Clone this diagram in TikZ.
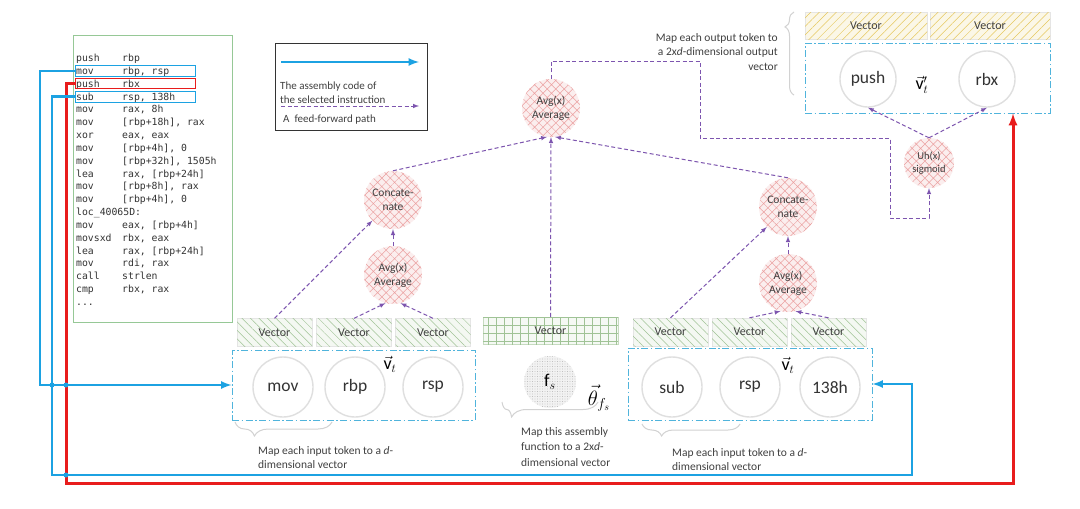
\documentclass[tikz,border=0pt]{standalone}
\usepackage{fontspec}
\setmainfont{Carlito}
\setmonofont{DejaVu Sans Mono}
\usepackage{tikz}
\usetikzlibrary{positioning,patterns.meta,decorations.pathreplacing}
\definecolor{selblue}{RGB}{28,162,226}
\definecolor{tokblue}{RGB}{80,180,220}
\definecolor{selred}{RGB}{232,28,28}
\definecolor{ffpurple}{RGB}{125,85,175}
\definecolor{hatchgreen}{RGB}{160,195,150}
\definecolor{hatchred}{RGB}{235,160,160}
\definecolor{hatchyellow}{RGB}{230,200,95}
\definecolor{codegreen}{RGB}{150,200,150}
\tikzstyle{tok} = [circle, draw=gray!25, line width=1.4pt, fill=white, minimum size=60pt, inner sep=0pt, text=black!80, font=\fontsize{17.5}{17.5}\selectfont]
\tikzstyle{op} = [circle, fill=hatchred!18, postaction={pattern={Hatch[angle=45,distance=6pt,line width=0.5pt]}, pattern color=hatchred}, minimum size=58pt, inner sep=0pt, align=center, text=black!75, font=\fontsize{11.5}{14}\selectfont]
\tikzstyle{vec} = [rectangle, draw=gray!20, fill=hatchgreen!12, postaction={pattern={Lines[angle=-45,distance=6pt,line width=0.5pt]}, pattern color=hatchgreen}, minimum width=75pt, minimum height=28pt, inner sep=0pt, text=black!75, font=\fontsize{12}{13}\selectfont]
\tikzstyle{outvec} = [rectangle, draw=gray!20, fill=hatchyellow!15, postaction={pattern={Lines[angle=45,distance=6pt,line width=0.5pt]}, pattern color=hatchyellow}, minimum height=27pt, inner sep=0pt, text=black!75, font=\fontsize{12}{13}\selectfont]
\tikzstyle{tokbox} = [rectangle, draw=tokblue, line width=1pt, dash pattern=on 7pt off 2.5pt on 1.5pt off 2.5pt, inner sep=0pt]
\tikzstyle{ff} = [draw=ffpurple, line width=1pt, dash pattern=on 4pt off 2.5pt, -latex]
\tikzstyle{sel} = [draw=selblue, line width=2.5pt, -latex]
\tikzstyle{selr} = [draw=selred, line width=3pt, -latex]
\tikzstyle{note} = [align=left, inner sep=0pt, text=black!75, font=\fontsize{11.5}{14}\selectfont]
\tikzstyle{brc} = [draw=gray!35, line width=1pt, decorate]
\tikzstyle{asm} = [anchor=base west, inner sep=0pt, text=black!80, font=\ttfamily\fontsize{9.8}{10}\selectfont]
\tikzstyle{vlabel} = [inner sep=0pt, font=\fontsize{18}{18}\selectfont]

\begin{document}
\begin{tikzpicture}[x=1pt, y=1pt, node distance=79pt]
\useasboundingbox (0,0) rectangle (1080,-509);
\fill[white] (0,0) rectangle (1080,-509);

% assembly listing
\node[draw=codegreen, line width=1pt, minimum width=159pt, minimum height=287pt, inner sep=0pt] (code) at (152.5,-178.5) {};
\foreach \op/\arg [count=\i] in {push/rbp, mov/{rbp, rsp}, push/rbx, sub/{rsp, 138h}, mov/{rax, 8h}, mov/{[rbp+18h], rax}, xor/{eax, eax}, mov/{[rbp+4h], 0}, mov/{[rbp+32h], 1505h}, lea/{rax, [rbp+24h]}, mov/{[rbp+8h], rax}, mov/{[rbp+4h], 0}, loc\_40065D:/{}, mov/{eax, [rbp+4h]}, movsxd/{rbx, eax}, lea/{rax, [rbp+24h]}, mov/{rdi, rax}, call/strlen, cmp/{rbx, rax}} {
  \node[asm] (op\i) at (76,{-61.5-(\i-1)*12.84}) {\op};
  \node[asm] (arg\i) at (122,{-61.5-(\i-1)*12.84}) {\arg};
}
\node[asm] (more) at (76,-305.5) {...};
\node[draw=selblue, line width=1pt, minimum width=120pt, minimum height=11pt, inner sep=0pt] (sel1) at (135,-70.8) {};
\node[draw=selred, line width=1pt, minimum width=120pt, minimum height=10pt, inner sep=0pt] (sel2) at (135,-83.7) {};
\node[draw=selblue, line width=1pt, minimum width=120pt, minimum height=11pt, inner sep=0pt] (sel3) at (135,-96.5) {};

% legend
\node[draw=black!80, line width=1pt, minimum width=152pt, minimum height=87pt, inner sep=0pt] (legend) at (351,-86.5) {};
\coordinate (lga) at (281,-62);
\coordinate (lgb) at (419,-62);
\coordinate (lgc) at (281,-106);
\coordinate (lgd) at (419,-106);
\path[sel] (lga) -- (lgb);
\path[ff] (lgc) -- (lgd);
\node[note, anchor=west, font=\fontsize{11}{14.5}\selectfont] (lgtext1) at (280,-92.5) {The assembly code of\\the selected instruction};
\node[note, anchor=west, font=\fontsize{11}{14}\selectfont] (lgtext2) at (283,-119.5) {A\ \ feed-forward path};

% left input tokens
\node[vec] (vl1) at (274.5,-332.5) {Vector};
\node[vec, right of=vl1, node distance=79.5pt] (vl2) {Vector};
\node[vec, right of=vl2] (vl3) {Vector};
\node[tokbox, minimum width=243pt, minimum height=70pt] (in1) at (353.5,-385) {};
\node[tok] (mov) at (283,-387) {mov};
\node[tok, right of=mov, node distance=72pt] (rbp) {rbp};
\node[tok, right of=rbp, node distance=78pt] (rsp) {rsp};
\node[vlabel] (vtl) at (390,-364) {$\vec{\mathrm{v}}_t$};
\node[op] (avgL) at (393,-275) {Avg(x)\\Average};
\node[op, above of=avgL, node distance=75pt] (catL) {Concate-\\nate};

% function vector
\node[rectangle, draw=hatchgreen!60, fill=hatchgreen!10, postaction={pattern={Hatch[angle=0,distance=8pt,line width=0.5pt]}, pattern color=hatchgreen}, minimum width=135pt, minimum height=27pt, inner sep=0pt, text=black!75, font=\fontsize{12}{13}\selectfont] (vm) at (550.5,-330.5) {Vector};
\node[circle, fill=gray!10, postaction={pattern={Dots[distance=2.5pt,radius=0.45pt]}, pattern color=gray!70}, minimum size=52pt, inner sep=0pt, font=\fontsize{18}{18}\selectfont] (fs) at (550,-382) {$\mathrm{f}_s$};
\node[vlabel, font=\fontsize{20}{20}\selectfont] (theta) at (599,-398) {$\vec{\theta}_{f_s}$};
\node[op] (avgT) at (551,-108) {Avg(x)\\Average};

% right input tokens
\node[vec] (vr1) at (670.5,-332) {Vector};
\node[vec, right of=vr1] (vr2) {Vector};
\node[vec, right of=vr2] (vr3) {Vector};
\node[tokbox, minimum width=244pt, minimum height=72pt] (in2) at (750,-384) {};
\node[tok] (sub) at (672,-387) {sub};
\node[tok, right of=sub, node distance=78pt] (rsp2) {rsp};
\node[tok, right of=rsp2, node distance=80pt] (hex) {138h};
\node[vlabel] (vtr) at (788,-365) {$\vec{\mathrm{v}}_t$};
\node[op] (avgR) at (788,-283) {Avg(x)\\Average};
\node[op, above of=avgR, node distance=76pt] (catR) {Concate-\\nate};

% output tokens
\node[outvec, minimum width=122pt] (ov1) at (866,-25.5) {Vector};
\node[outvec, minimum width=120pt] (ov2) at (990,-25.5) {Vector};
\node[tokbox, minimum width=245pt, minimum height=70pt] (out) at (927.5,-78) {};
\node[tok, minimum size=56pt] (push) at (868,-79) {push};
\node[tok, minimum size=56pt, right of=push, node distance=119pt] (rbx) {rbx};
\node[vlabel] (vto) at (922,-85) {$\vec{\mathrm{v}}'_t$};
\node[op, minimum size=50pt, font=\fontsize{10.5}{13}\selectfont] (uh) at (929,-163) {Uh(x)\\sigmoid};

% braces and notes
\draw[brc, decoration={brace,mirror,amplitude=14pt,aspect=0.2}] (235,-422) -- (332,-422);
\node[note, anchor=west] (noteL) at (258,-457.5) {Map each input token to a \textit{d}-\\dimensional vector};
\draw[brc, decoration={brace,mirror,amplitude=15pt,aspect=0.1}] (502,-402) -- (598,-402);
\node[note, anchor=west, font=\fontsize{11.5}{15.5}\selectfont] (noteM) at (521,-447) {Map this assembly\\function to a 2x\textit{d}-\\dimensional vector};
\draw[brc, decoration={brace,mirror,amplitude=12pt,aspect=0.2}] (642,-424) -- (740,-424);
\node[note, anchor=west] (noteR) at (672,-459.5) {Map each input token to a \textit{d}-\\dimensional vector};
\draw[brc, decoration={brace,amplitude=9pt,aspect=0.82}] (794,-95) -- (794,-12);
\node[note, anchor=east, align=right, font=\fontsize{11.5}{14.5}\selectfont] (noteO) at (778,-52) {Map each output token to\\a 2x\textit{d}-dimensional output\\vector};

% feed-forward paths
\path[ff] (vl1.north) -- (catL);
\path[ff] (vl2.north) -- (avgL.255);
\path[ff] (vl3.north) -- (avgL.285);
\path[ff] (avgL) -- (catL);
\path[ff] (catL.north) -- (avgT.262);
\path[ff] (vm.north) -- (avgT.south);
\path[ff] (catR.north) -- (avgT.278);
\path[ff] (vr1.north) -- (catR);
\path[ff] (vr2.north) -- (avgR.255);
\path[ff] (vr3.north) -- (avgR.285);
\path[ff] (avgR) -- (catR);
\coordinate (p1) at (700,-61);
\coordinate (p2) at (890,-138);
\coordinate (p3) at (929,-218);
\path[ff] (avgT.north) |- (p1) |- (p2) |- (p3) -- (uh.south);
\path[ff] (uh.north) -- (push.south);
\path[ff] (uh.north) -- (rbx.south);

% selected instruction paths
\coordinate (r1) at (66,-83.7);
\coordinate (r2) at (1013,-483);
\path[selr] (sel2.west) -- (r1) |- (r2) -- (r2 |- out.south);
\coordinate (b1) at (40,-70.8);
\path[sel] (sel1.west) -- (b1) |- (in1.west);
\coordinate (b2) at (52,-96.5);
\coordinate (b3) at (912,-475);
\path[sel] (sel3.west) -- (b2) |- (b3) |- (in2.east);
\foreach \p in {(52,-385),(66,-385),(66,-475)}
  \fill[selblue] \p circle (2.5pt);
\end{tikzpicture}
\end{document}
